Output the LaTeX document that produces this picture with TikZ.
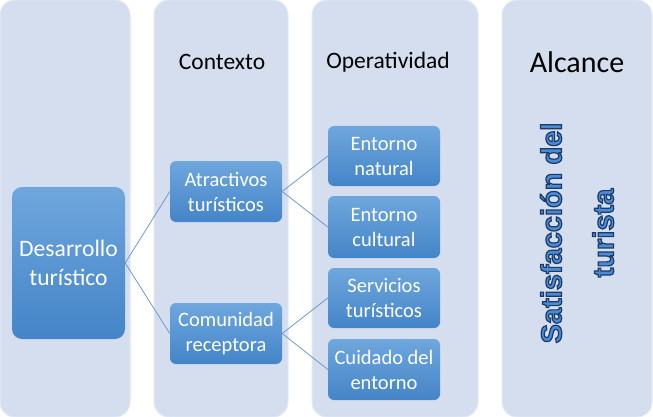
\documentclass[tikz,border=0pt]{standalone}
\usepackage{fontspec}
\setmainfont{Carlito}
\newfontfamily\alcfont{Liberation Sans}
\usepackage{xcolor}
\usepackage{tikz}
\usetikzlibrary{positioning, calc}
\definecolor{colfill}{HTML}{D4DEEF}
\definecolor{colline}{HTML}{E3EAF5}
\definecolor{boxtop}{HTML}{6FA7DD}
\definecolor{boxbot}{HTML}{4484C8}
\definecolor{linkline}{HTML}{7199C8}
% outlined text: blue fill, dark stroke
\newcommand{\outlinetext}[1]{\special{pdf:literal direct 2 Tr 1.2 w 0.106 0.227 0.4 RG 0.29 0.545 0.84 rg}#1\special{pdf:literal direct 0 Tr}}

\begin{document}
\begin{tikzpicture}[
    x=1pt, y=-1pt,
    column/.style={rectangle, draw=colline, line width=1pt, fill=colfill, rounded corners=15pt, minimum height=417pt, inner sep=0pt},
    header/.style={font=\fontsize{23.5}{28}\selectfont, text=black},
    item/.style={rectangle, draw=none, top color=boxtop, bottom color=boxbot, text=white, align=center, rounded corners=6pt, minimum width=112pt, minimum height=61pt, inner sep=0pt, font=\fontsize{20.5}{25}\selectfont},
    link/.style={draw=linkline, line width=0.8pt}
]
\useasboundingbox (0,0) rectangle (653,417);

% Columns
\node[column, minimum width=130pt] (col1) at (65,208.5) {};
\node[column, minimum width=134pt] (col2) at (221,208.5) {};
\node[column, minimum width=166pt] (col3) at (395,208.5) {};
\node[column, minimum width=150pt] (col4) at (577,208.5) {};

% Headers
\node[header] (hctx) at (222,62) {Contexto};
\node[header] (hope) at (388,62) {Operatividad};
\node[header, font=\fontsize{30}{36}\selectfont] (halc) at (577,62) {Alcance};

% Nodes
\node[item, minimum width=113pt, minimum height=152pt, rounded corners=10pt, font=\fontsize{23.6}{29}\selectfont] (des) at (68.5,263) {Desarrollo\\turístico};
\node[item] (atr) at (226,191.5) {Atractivos\\turísticos};
\node[item] (com) at (226,333.5) {Comunidad\\receptora};
\node[item, minimum height=60pt] (nat) at (384,156) {Entorno\\natural};
\node[item, minimum height=62pt] (cul) at (384,227) {Entorno\\cultural};
\node[item, minimum height=60pt] (ser) at (384,298) {Servicios\\turísticos};
\node[item, minimum height=61pt] (cui) at (384,369.5) {Cuidado del\\entorno};

% Vertical text
\node[rotate=90, align=center, font=\alcfont\bfseries\fontsize{29}{52}\selectfont] (sat) at (577,233)
  {\outlinetext{Satisfacción del}\\ \outlinetext{turista}};

% Connectors
\draw[link] (des.east) -- (atr.west);
\draw[link] (des.east) -- (com.west);
\draw[link] (atr.east) -- (nat.west);
\draw[link] (atr.east) -- (cul.west);
\draw[link] (com.east) -- (ser.west);
\draw[link] (com.east) -- (cui.west);

\end{tikzpicture}
\end{document}
